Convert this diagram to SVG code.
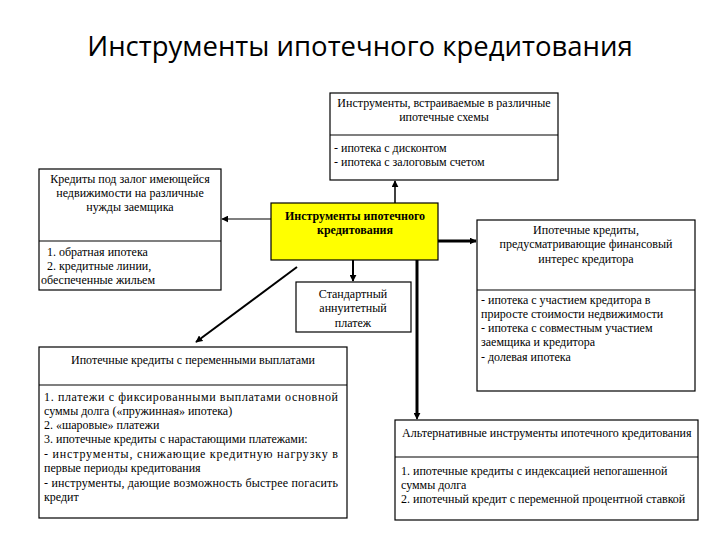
<svg xmlns="http://www.w3.org/2000/svg" width="720" height="540" viewBox="0 0 720 540">
<style>
.box{fill:#fff;stroke:#000;stroke-width:1.2}
.div{stroke:#000;stroke-width:1.2}
.t{font-family:'Liberation Serif','DejaVu Serif',serif;font-size:12px;fill:#000}
.c{text-anchor:middle}
.b{font-weight:bold}
.title{font-family:'Open Sans','Liberation Sans',sans-serif;font-size:27.5px;fill:#000;text-anchor:middle}
.ln{stroke:#000;fill:none}
</style>
<defs>
<marker id="ahs" viewBox="0 0 10 10" refX="9" refY="5" markerWidth="7" markerHeight="7" orient="auto" markerUnits="userSpaceOnUse"><path d="M0,0 L10,5 L0,10 z" fill="#000"/></marker>
</defs>
<rect width="720" height="540" fill="#fff"/>
<text class="title" x="360" y="56">Инструменты ипотечного кредитования</text>

<g id="connectors">
<line class="ln" x1="395" y1="203" x2="395" y2="181" stroke-width="1.5" marker-end="url(#ahs)"/>
<line class="ln" x1="271" y1="219" x2="222" y2="219" stroke-width="1.2" marker-end="url(#ahs)"/>
<line class="ln" x1="438" y1="241" x2="476" y2="241" stroke-width="3" marker-end="url(#ahs)"/>
<line class="ln" x1="353" y1="260" x2="353" y2="281" stroke-width="2" marker-end="url(#ahs)"/>
<polyline class="ln" points="417,260 417,413" stroke-width="3"/>
<line class="ln" x1="417" y1="405" x2="417" y2="419" stroke-width="1.5" marker-end="url(#ahs)"/>
<line class="ln" x1="297" y1="267" x2="196" y2="342" stroke-width="2" marker-end="url(#ahs)"/>
</g>

<g id="top">
<rect class="box" x="330" y="93" width="228" height="87"/>
<line class="div" x1="330" y1="135" x2="558" y2="135"/>
<text class="t c" x="444" y="107">Инструменты, встраиваемые в различные</text>
<text class="t c" x="444" y="121">ипотечные схемы</text>
<text class="t" x="334" y="152">- ипотека с дисконтом</text>
<text class="t" x="334" y="166">- ипотека с залоговым счетом</text>
</g>

<g id="left">
<rect class="box" x="39" y="169" width="182" height="121"/>
<line class="div" x1="39" y1="241" x2="221" y2="241"/>
<text class="t c" x="130" y="183">Кредиты под залог имеющейся</text>
<text class="t c" x="130" y="197">недвижимости на различные</text>
<text class="t c" x="130" y="211">нужды заемщика</text>
<text class="t" x="47" y="256">1. обратная ипотека</text>
<text class="t" x="47" y="270">2. кредитные линии,</text>
<text class="t" x="41" y="284">обеспеченные жильем</text>
</g>

<g id="center">
<rect x="271" y="203" width="167" height="57" fill="#ffff00" stroke="#000" stroke-width="1.2"/>
<text class="t c b" x="355" y="220">Инструменты ипотечного</text>
<text class="t c b" x="355" y="234">кредитования</text>
</g>

<g id="right">
<rect class="box" x="477" y="220" width="218" height="171"/>
<line class="div" x1="477" y1="290" x2="695" y2="290"/>
<text class="t c" x="586" y="234">Ипотечные кредиты,</text>
<text class="t c" x="586" y="248">предусматривающие финансовый</text>
<text class="t c" x="586" y="263">интерес кредитора</text>
<text class="t" x="481" y="304">- ипотека с участием кредитора в</text>
<text class="t" x="481" y="318">приросте стоимости недвижимости</text>
<text class="t" x="481" y="332">- ипотека с совместным участием</text>
<text class="t" x="481" y="346">заемщика и кредитора</text>
<text class="t" x="481" y="361">- долевая ипотека</text>
</g>

<g id="standard">
<rect class="box" x="296" y="282" width="115" height="50"/>
<text class="t c" x="353" y="298">Стандартный</text>
<text class="t c" x="353" y="312">аннуитетный</text>
<text class="t c" x="353" y="327">платеж</text>
</g>

<g id="variable">
<rect class="box" x="39" y="347" width="308" height="171"/>
<line class="div" x1="39" y1="385" x2="347" y2="385"/>
<text class="t c" x="193" y="364">Ипотечные кредиты с переменными выплатами</text>
<text class="t" x="44" y="401" textLength="294" lengthAdjust="spacing">1. платежи с фиксированными выплатами основной</text>
<text class="t" x="44" y="415">суммы долга («пружинная» ипотека)</text>
<text class="t" x="44" y="429">2. «шаровые» платежи</text>
<text class="t" x="44" y="443">3. ипотечные кредиты с нарастающими платежами:</text>
<text class="t" x="44" y="458" textLength="294" lengthAdjust="spacing">- инструменты, снижающие кредитную нагрузку в</text>
<text class="t" x="44" y="472">первые периоды кредитования</text>
<text class="t" x="44" y="487" textLength="294" lengthAdjust="spacing">- инструменты, дающие возможность быстрее погасить</text>
<text class="t" x="44" y="501">кредит</text>
</g>

<g id="alternative">
<rect class="box" x="395" y="420" width="303" height="100"/>
<line class="div" x1="395" y1="457" x2="698" y2="457"/>
<text class="t" x="402" y="437">Альтернативные инструменты ипотечного кредитования</text>
<text class="t" x="401" y="475">1. ипотечные кредиты с индексацией непогашенной</text>
<text class="t" x="401" y="489">суммы долга</text>
<text class="t" x="401" y="503">2. ипотечный кредит с переменной процентной ставкой</text>
</g>
</svg>
